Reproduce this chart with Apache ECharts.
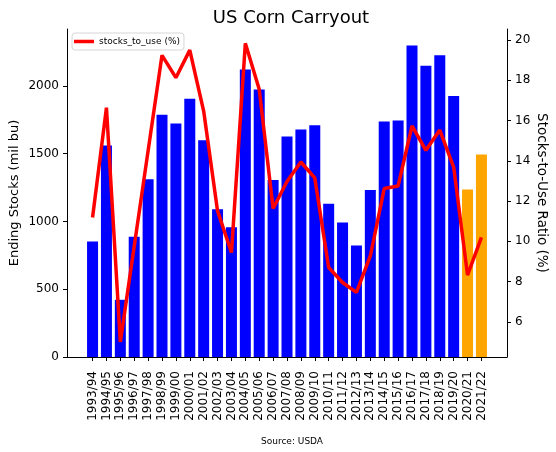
<!DOCTYPE html>
<html>
<head>
<meta charset="utf-8">
<script src="https://cdn.jsdelivr.net/npm/echarts@6/dist/echarts.min.js"></script>
<style>
  html, body { margin: 0; padding: 0; background: #fff; }
  #main { width: 556px; height: 452px; }
</style>
</head>
<body>
<div id="main"></div>
<script>
// marketing years
var categories = ['1993/94', '1994/95', '1995/96', '1996/97', '1997/98', '1998/99', '1999/00',
    '2000/01', '2001/02', '2002/03', '2003/04', '2004/05', '2005/06', '2006/07', '2007/08',
    '2008/09', '2009/10', '2010/11', '2011/12', '2012/13', '2013/14', '2014/15', '2015/16',
    '2016/17', '2017/18', '2018/19', '2019/20', '2020/21', '2021/22'];

// ending stocks, mil bu
var endingStocks = [853, 1560, 422, 887, 1312, 1788, 1722, 1906, 1599, 1091, 958, 2122, 1973,
    1305, 1626, 1678, 1709, 1130, 993, 823, 1233, 1737, 1744, 2299, 2149, 2226, 1926, 1235, 1494];

// stocks-to-use, %
var stocksToUse = [11.18, 16.64, 5.0, 9.75, 14.5, 19.24, 18.13, 19.5, 16.47, 11.51, 9.44, 19.84,
    17.55, 11.63, 12.97, 13.94, 13.15, 8.7, 7.95, 7.46, 9.27, 12.62, 12.75, 15.73, 14.52, 15.53,
    13.69, 8.32, 10.19];

// first projected year (orange bars)
var projectedFrom = 27;

var leftTicks = [0, 500, 1000, 1500, 2000];
var rightTicks = [6, 8, 10, 12, 14, 16, 18, 20];
var xTicks = categories.map(function (c, i) { return i; });

var font = 'DejaVu Sans';
var axisColor = '#000';

var chart = echarts.init(document.getElementById('main'));
var option = {
    animation: false,
    title: [
        {
            text: 'US Corn Carryout',
            left: 286,
            top: 4,
            textAlign: 'center',
            textStyle: { fontFamily: font, fontSize: 18, fontWeight: 'normal', color: '#000' }
        },
        {
            text: 'Source: USDA',
            left: 287,
            top: 432,
            textAlign: 'center',
            textStyle: { fontFamily: font, fontSize: 9, fontWeight: 'normal', color: '#000' }
        }
    ],
    legend: {
        data: ['stocks_to_use (%)'],
        left: 72,
        top: 33,
        icon: 'rect',
        itemWidth: 20,
        itemHeight: 3.5,
        itemGap: 5,
        padding: [4, 4, 4, 2],
        backgroundColor: '#fff',
        borderColor: '#d6d6d6',
        borderWidth: 1,
        borderRadius: 3,
        textStyle: { fontFamily: font, fontSize: 9, color: '#000' }
    },
    grid: {
        left: 67,
        right: 49,
        top: 29,
        bottom: 95,
        outerBoundsMode: 'none',
        containLabel: false
    },
    xAxis: {
        type: 'value',
        min: -1.84,
        max: 29.84,
        splitLine: { show: false },
        axisLine: { onZero: false, lineStyle: { color: axisColor, width: 1 } },
        axisTick: { customValues: xTicks, length: 4, lineStyle: { color: axisColor } },
        axisLabel: {
            customValues: xTicks,
            rotate: 90,
            margin: 14,
            fontFamily: font,
            fontSize: 12,
            color: '#000',
            formatter: function (v) { return categories[v]; }
        }
    },
    yAxis: [
        {
            type: 'value',
            min: 0,
            max: 2420,
            name: 'Ending Stocks (mil bu)',
            nameLocation: 'middle',
            nameGap: 46,
            nameMoveOverlap: false,
            nameTextStyle: { fontFamily: font, fontSize: 13, color: '#000' },
            splitLine: { show: false },
            axisLine: { show: true, onZero: false, lineStyle: { color: axisColor, width: 1 } },
            axisTick: { show: true, customValues: leftTicks, length: 4, lineStyle: { color: axisColor } },
            axisLabel: {
                customValues: leftTicks, margin: 8, fontFamily: font, fontSize: 12, color: '#000',
                formatter: function (v) { return String(v); }
            }
        },
        {
            type: 'value',
            min: 4.25,
            max: 20.55,
            position: 'right',
            name: 'Stocks-to-Use Ratio (%)',
            nameLocation: 'middle',
            nameRotate: -90,
            nameGap: 27,
            nameMoveOverlap: false,
            nameTextStyle: { fontFamily: font, fontSize: 13.5, color: '#000' },
            splitLine: { show: false },
            axisLine: { show: true, onZero: false, lineStyle: { color: axisColor, width: 1 } },
            axisTick: { show: true, customValues: rightTicks, length: 4, lineStyle: { color: axisColor } },
            axisLabel: {
                customValues: rightTicks, margin: 8, fontFamily: font, fontSize: 12, color: '#000',
                formatter: function (v) { return String(v); }
            }
        }
    ],
    series: [
        {
            name: 'Ending Stocks',
            type: 'bar',
            barWidth: 11,
            data: endingStocks.map(function (v, i) {
                return {
                    value: [i, v],
                    itemStyle: { color: i >= projectedFrom ? '#ffa500' : '#0000ff' }
                };
            })
        },
        {
            name: 'stocks_to_use (%)',
            type: 'line',
            yAxisIndex: 1,
            showSymbol: false,
            symbol: 'none',
            lineStyle: { color: '#ff0000', width: 3.5 },
            itemStyle: { color: '#ff0000' },
            data: stocksToUse.map(function (v, i) { return [i, v]; })
        }
    ]
};
chart.setOption(option);
</script>
</body>
</html>
